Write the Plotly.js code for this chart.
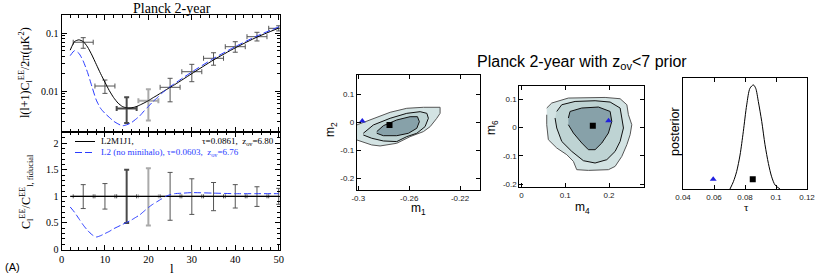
<!DOCTYPE html>
<html><head><meta charset="utf-8">
<script src="https://cdn.plot.ly/plotly-3.0.1.min.js"></script>
<style>html,body{margin:0;padding:0;background:#fff}#c{width:830px;height:276px}</style>
</head><body><div id="c"></div>
<script>
// ---------- left panel data ----------
const lBin = [5, 10, 15, 20, 25, 30, 35, 40, 45, 50];
const eeBin = [0.070, 0.0122, 0.0050, 0.0068, 0.0116, 0.0216, 0.0369, 0.0586, 0.0873, 0.122];
const eeBinHi = [0.084, 0.0155, 0.0078, 0.0107, 0.0166, 0.029, 0.046, 0.0715, 0.104, 0.135];
const eeBinLo = [0.055, 0.0091, 0.0028, 0.0031, 0.0065, 0.0145, 0.028, 0.047, 0.0736, 0.110];
const lBinHalf = [2.3, 2.3, 2.3, 2.3, 2.3, 2.3, 2.3, 2.3, 2.3, 2.3];
const ratioBin = [1, 1, 1, 1, 1, 1, 1, 1, 1, 1];
const ratioBinHi = [1.22, 1.24, 1.50, 1.53, 1.45, 1.33, 1.26, 1.22, 1.18, 1.15];
const ratioBinLo = [0.77, 0.76, 0.50, 0.45, 0.55, 0.66, 0.73, 0.78, 0.81, 0.85];

const lModel = [2, 3, 4, 5, 6, 7, 8, 9, 10, 11, 12, 13, 14, 15, 16, 17, 18, 19, 20, 21, 22, 23, 24, 25, 26, 28, 30, 35, 40, 45, 50];
const eeL2M1J1 = [0.051, 0.072, 0.077, 0.072, 0.058, 0.042, 0.029, 0.020, 0.0142, 0.0102, 0.0077, 0.0062, 0.0054, 0.0051, 0.0051, 0.0053, 0.0057, 0.0062, 0.0068, 0.0076, 0.0084, 0.0094, 0.0104, 0.0116, 0.0128, 0.0160, 0.0200, 0.0345, 0.056, 0.086, 0.123];
const eeL2 = [0.041, 0.050, 0.045, 0.033, 0.021, 0.0120, 0.0070, 0.0050, 0.0041, 0.0035, 0.0030, 0.0027, 0.0025, 0.0026, 0.0028, 0.0032, 0.0037, 0.0045, 0.0054, 0.0065, 0.0076, 0.0090, 0.0104, 0.0119, 0.0134, 0.0170, 0.0214, 0.0366, 0.0588, 0.090, 0.129];
const ratioL2 = [0.80, 0.70, 0.58, 0.46, 0.36, 0.28, 0.235, 0.26, 0.30, 0.34, 0.39, 0.43, 0.47, 0.51, 0.55, 0.60, 0.65, 0.72, 0.79, 0.85, 0.90, 0.95, 1.00, 1.03, 1.05, 1.06, 1.07, 1.06, 1.05, 1.05, 1.05];
const lRef = [2, 50];
const ratioRef = [1, 1];

const eeTickVals = [0.01, 0.1];
const eeTickText = ['0.01', '0.1'];

// ---------- right panels data ----------
const m1Outer = [-0.3013, -0.2882, -0.2750, -0.2619, -0.2488, -0.2357, -0.2357, -0.2383, -0.2435, -0.2488, -0.2593, -0.2698, -0.2829, -0.2895, -0.2987, -0.3013];
const m2Outer = [-0.0096, 0.0143, 0.0357, 0.0500, 0.0536, 0.0536, 0.0320, 0.0143, -0.0155, -0.0333, -0.0512, -0.0750, -0.0846, -0.0810, -0.0690, -0.0630];
const m1Mid = [-0.2961, -0.2882, -0.2750, -0.2619, -0.2514, -0.2461, -0.2449, -0.2475, -0.2540, -0.2619, -0.2698, -0.2803, -0.2895, -0.2961];
const m2Mid = [-0.0393, -0.0096, 0.0143, 0.0320, 0.0379, 0.0320, 0.0143, -0.0155, -0.0393, -0.0512, -0.0690, -0.0668, -0.0570, -0.0454];
const m1Inner = [-0.2855, -0.2803, -0.2698, -0.2593, -0.2535, -0.2520, -0.2540, -0.2606, -0.2698, -0.2803, -0.2855];
const m2Inner = [-0.0333, -0.0121, 0.0082, 0.0200, 0.0200, 0.0021, -0.0214, -0.0393, -0.0479, -0.0479, -0.0393];
const m1Best = [-0.2755], m2Best = [-0.0096];
const m1Alt = [-0.2969], m2Alt = [0.0046];

const m4Outer = [0.0577, 0.0691, 0.1071, 0.1453, 0.1911, 0.2254, 0.2408, 0.2444, 0.2521, 0.2483, 0.2408, 0.2293, 0.2140, 0.1987, 0.1529, 0.1263, 0.1186, 0.1035, 0.0806, 0.0614, 0.0577, 0.0577];
const m6Outer = [0.0683, 0.0859, 0.1035, 0.1056, 0.1056, 0.1011, 0.0799, 0.0447, 0.0095, -0.0257, -0.0609, -0.1021, -0.1373, -0.1489, -0.1514, -0.1489, -0.1197, -0.0961, -0.0725, -0.0433, 0.0095, 0.0447];
const m4Mid = [0.0806, 0.0920, 0.1225, 0.1682, 0.2026, 0.2254, 0.2293, 0.2330, 0.2254, 0.2140, 0.1950, 0.1682, 0.1415, 0.1149, 0.0920, 0.0806, 0.0767];
const m6Mid = [0.0563, 0.0799, 0.0915, 0.0940, 0.0894, 0.0683, 0.0331, -0.0021, -0.0493, -0.0845, -0.1137, -0.1254, -0.1173, -0.0845, -0.0493, -0.0021, 0.0331];
const m4Inner = [0.1071, 0.1110, 0.1378, 0.1758, 0.2026, 0.2064, 0.1987, 0.1836, 0.1682, 0.1529, 0.1378, 0.1186, 0.1071];
const m6Inner = [0.0331, 0.0563, 0.0683, 0.0718, 0.0563, 0.0211, -0.0197, -0.0549, -0.0785, -0.0785, -0.0549, -0.0197, 0.0095];
const m4Best = [0.163], m6Best = [0.006];
const m4Alt = [0.199], m6Alt = [0.0236];

const tauGrid = [0.0703, 0.0725, 0.0746, 0.0768, 0.0789, 0.0811, 0.0832, 0.0854, 0.0869, 0.0886, 0.0908, 0.0929, 0.0951, 0.0972, 0.0994, 0.1026];
const posterior = [0.0, 0.066, 0.157, 0.307, 0.518, 0.76, 0.91, 0.94, 0.91, 0.79, 0.61, 0.40, 0.23, 0.11, 0.036, 0.0];
const tauBest = [0.0850], postBest = [0.088];
const tauAlt = [0.0595], postAlt = [0.088];

const m1Ticks = [-0.3, -0.26, -0.22], m1TickText = ['-0.3', '-0.26', '-0.22'];
const mYTicks = [-0.2, -0.1, 0, 0.1], mYTickText = ['-0.2', '-0.1', '0', '0.1'];
const m4Ticks = [0, 0.1, 0.2], m4TickText = ['0', '0.1', '0.2'];
const tauTicks = [0.04, 0.06, 0.08, 0.1, 0.12], tauTickText = ['0.04', '0.06', '0.08', '0.1', '0.12'];

// ---------- build ----------
const pick = (arr, idx) => idx.map(i => arr[i]);
const errGroups = [
  {idx: [0, 1, 4, 5, 6, 7, 8, 9], color: '#555', w: 1},
  {idx: [2], color: '#4a4a4a', w: 2},
  {idx: [3], color: '#aaaaaa', w: 2}
];
const blue = '#2a3cff';
const traces = [];
errGroups.forEach(g => {
  const x = pick(lBin, g.idx), y = pick(eeBin, g.idx);
  const hi = pick(eeBinHi, g.idx), lo = pick(eeBinLo, g.idx);
  traces.push({x, y, xaxis: 'x2', yaxis: 'y2', type: 'scatter', mode: 'markers',
    marker: {size: 1, color: 'rgba(0,0,0,0)'},
    error_y: {type: 'data', symmetric: false, array: y.map((v, i) => hi[i] - v), arrayminus: y.map((v, i) => v - lo[i]), color: g.color, thickness: g.w, width: 2.5},
    error_x: {type: 'data', array: pick(lBinHalf, g.idx), color: g.color, thickness: g.w, width: 2.5}});
  const ry = pick(ratioBin, g.idx), rhi = pick(ratioBinHi, g.idx), rlo = pick(ratioBinLo, g.idx);
  traces.push({x, y: ry, xaxis: 'x', yaxis: 'y', type: 'scatter', mode: 'markers',
    marker: {size: 1, color: 'rgba(0,0,0,0)'},
    error_y: {type: 'data', symmetric: false, array: ry.map((v, i) => rhi[i] - v), arrayminus: ry.map((v, i) => v - rlo[i]), color: g.color, thickness: g.w, width: 2.5},
    error_x: {type: 'data', array: pick(lBinHalf, g.idx), color: g.color, thickness: 1, width: 2}});
});
traces.push({x: lModel, y: eeL2M1J1, xaxis: 'x2', yaxis: 'y2', mode: 'lines', line: {color: '#000', width: 1, shape: 'spline', smoothing: 0.6}});
traces.push({x: lModel, y: eeL2, xaxis: 'x2', yaxis: 'y2', mode: 'lines', line: {color: blue, width: 1, dash: '7px,3px', shape: 'spline', smoothing: 0.6}});
traces.push({x: lRef, y: ratioRef, xaxis: 'x', yaxis: 'y', mode: 'lines', line: {color: '#000', width: 1.2}});
traces.push({x: lModel, y: ratioL2, xaxis: 'x', yaxis: 'y', mode: 'lines', line: {color: blue, width: 1, dash: '7px,3px', shape: 'spline', smoothing: 0.6}});

const fillOuter = '#d3e3e3', fillMid = '#bed3d3', fillInner = '#87a1a9';
function contourSet(xs, ys, xa, ya) {
  traces.push({x: xs[0], y: ys[0], xaxis: xa, yaxis: ya, mode: 'lines', fill: 'toself', fillcolor: fillOuter, line: {color: '#555', width: 1}});
  traces.push({x: xs[1], y: ys[1], xaxis: xa, yaxis: ya, mode: 'lines', fill: 'toself', fillcolor: fillMid, line: {color: '#111', width: 1}});
  traces.push({x: xs[2], y: ys[2], xaxis: xa, yaxis: ya, mode: 'lines', fill: 'toself', fillcolor: fillInner, line: {color: '#111', width: 1}});
}
contourSet([m1Outer, m1Mid, m1Inner], [m2Outer, m2Mid, m2Inner], 'x3', 'y3');
contourSet([m4Outer, m4Mid, m4Inner], [m6Outer, m6Mid, m6Inner], 'x4', 'y4');
const sq = {symbol: 'square', size: 6, color: '#000'};
const tri = {symbol: 'triangle-up', size: 6, color: '#2020e0'};
traces.push({x: m1Best, y: m2Best, xaxis: 'x3', yaxis: 'y3', mode: 'markers', marker: sq});
traces.push({x: m1Alt, y: m2Alt, xaxis: 'x3', yaxis: 'y3', mode: 'markers', marker: tri, cliponaxis: false});
traces.push({x: m4Best, y: m6Best, xaxis: 'x4', yaxis: 'y4', mode: 'markers', marker: sq});
traces.push({x: m4Alt, y: m6Alt, xaxis: 'x4', yaxis: 'y4', mode: 'markers', marker: tri});
traces.push({x: tauGrid, y: posterior, xaxis: 'x5', yaxis: 'y5', mode: 'lines', line: {color: '#000', width: 1, shape: 'spline', smoothing: 0.8}});
traces.push({x: tauBest, y: postBest, xaxis: 'x5', yaxis: 'y5', mode: 'markers', marker: sq});
traces.push({x: tauAlt, y: postAlt, xaxis: 'x5', yaxis: 'y5', mode: 'markers', marker: tri});

const serif = 'Liberation Serif, DejaVu Serif, serif';
const sans = 'Liberation Sans, Arial, sans-serif';
const baseAx = {showgrid: false, zeroline: false, showline: true, linecolor: '#000', linewidth: 1, mirror: 'ticks', ticks: 'inside', tickcolor: '#000'};
const leftTickFont = {family: serif, size: 10, color: '#000'};
const rightTickFont = {family: sans, size: 8, color: '#222'};
const W = 830, H = 276;
const px = v => v / W, py = v => 1 - v / H;

const layout = {
  width: W, height: H, margin: {l: 0, r: 0, t: 0, b: 0}, showlegend: false,
  paper_bgcolor: '#fff', plot_bgcolor: 'rgba(0,0,0,0)',
  xaxis: Object.assign({}, baseAx, {domain: [px(61.5), px(280)], anchor: 'y', range: [0, 50.3], dtick: 10, ticklen: 5,
    minor: {dtick: 2, ticklen: 3, ticks: 'inside', tickcolor: '#000'}, tickfont: Object.assign({}, leftTickFont, {size: 10.5})}),
  xaxis2: Object.assign({}, baseAx, {domain: [px(61.5), px(280)], anchor: 'y2', matches: 'x', range: [0, 50.3], dtick: 10, ticklen: 5,
    minor: {dtick: 2, ticklen: 3, ticks: 'inside', tickcolor: '#000'}, showticklabels: false}),
  yaxis: Object.assign({}, baseAx, {domain: [py(249.5), py(132)], anchor: 'x', range: [0, 2.21], dtick: 0.5, ticklen: 5,
    minor: {dtick: 0.1, ticklen: 3, ticks: 'inside', tickcolor: '#000'}, tickfont: leftTickFont}),
  yaxis2: Object.assign({}, baseAx, {domain: [py(132), py(15)], anchor: 'x2', type: 'log', range: [-2.71, -0.683],
    tickvals: eeTickVals, ticktext: eeTickText, ticklen: 5,
    minor: {dtick: 'D1', ticklen: 3, ticks: 'inside', tickcolor: '#000'}, tickfont: leftTickFont}),
  xaxis3: Object.assign({}, baseAx, {domain: [px(356.7), px(480)], anchor: 'y3', range: [-0.3013, -0.2043], tickvals: m1Ticks, ticktext: m1TickText, ticklen: 4, tickfont: rightTickFont}),
  yaxis3: Object.assign({}, baseAx, {domain: [py(190), py(75)], anchor: 'x3', range: [-0.242, 0.169], tickvals: mYTicks, ticktext: mYTickText, ticklen: 4, tickfont: rightTickFont}),
  xaxis4: Object.assign({}, baseAx, {domain: [px(519.3), px(644)], anchor: 'y4', range: [-0.005, 0.28], tickvals: m4Ticks, ticktext: m4TickText, ticklen: 4, tickfont: rightTickFont}),
  yaxis4: Object.assign({}, baseAx, {domain: [py(187.3), py(85.7)], anchor: 'x4', range: [-0.211, 0.147], tickvals: mYTicks, ticktext: mYTickText, ticklen: 4, tickfont: rightTickFont}),
  xaxis5: Object.assign({}, baseAx, {domain: [px(683), px(807)], anchor: 'y5', range: [0.04, 0.12], tickvals: tauTicks, ticktext: tauTickText, ticklen: 4, tickfont: rightTickFont}),
  yaxis5: Object.assign({}, baseAx, {domain: [py(189), py(78.3)], anchor: 'x5', range: [0, 1], ticks: '', mirror: true, showticklabels: false}),
  shapes: [
    {type: 'line', xref: 'paper', yref: 'paper', x0: px(75), x1: px(95), y0: py(141.5), y1: py(141.5), line: {color: '#000', width: 1}},
    {type: 'line', xref: 'paper', yref: 'paper', x0: px(75), x1: px(95), y0: py(152.5), y1: py(152.5), line: {color: blue, width: 1, dash: '7px,3px'}}
  ],
  annotations: [
    {text: 'Planck 2-year', x: px(172), y: py(8), font: {family: serif, size: 14, color: '#000'}},
    {text: 'l(l+1)C<sub>l</sub><sup>EE</sup>/2π(μK<sup>2</sup>)', x: px(25), y: py(73), textangle: -90, font: {family: serif, size: 12, color: '#000'}},
    {text: 'C<sub>l</sub><sup>EE</sup>/C<sup>EE</sup><sub>l, fiducial</sub>', x: px(26), y: py(192), textangle: -90, font: {family: serif, size: 12, color: '#000'}},
    {text: 'l', x: px(172), y: py(268), font: {family: serif, size: 13, color: '#000'}},
    {text: '(A)', x: px(12), y: py(267), font: {family: sans, size: 11, color: '#000'}},
    {text: 'L2M1J1,', x: px(99), y: py(141.5), xanchor: 'left', font: {family: serif, size: 9, color: '#000'}},
    {text: 'τ=0.0861,  z<sub>ov</sub>=6.80', x: px(276), y: py(141.5), xanchor: 'right', font: {family: serif, size: 9, color: '#000'}},
    {text: 'L2 (no minihalo), τ=0.0603,  z<sub>ov</sub>=6.76', x: px(99), y: py(152.5), xanchor: 'left', font: {family: serif, size: 9, color: blue}},
    {text: 'Planck 2-year with z<sub>ov</sub>&lt;7 prior', x: px(582), y: py(62), font: {family: sans, size: 16, color: '#000'}},
    {text: 'm<sub>1</sub>', x: px(418), y: py(209), font: {family: sans, size: 12, color: '#000'}},
    {text: 'm<sub>2</sub>', x: px(331), y: py(130), textangle: -90, font: {family: sans, size: 12, color: '#000'}},
    {text: 'm<sub>4</sub>', x: px(582), y: py(208), font: {family: sans, size: 12, color: '#000'}},
    {text: 'm<sub>6</sub>', x: px(492), y: py(128), textangle: -90, font: {family: sans, size: 12, color: '#000'}},
    {text: 'τ', x: px(746), y: py(207), font: {family: serif, size: 11, color: '#000'}},
    {text: 'posterior', x: px(675), y: py(132), textangle: -90, font: {family: sans, size: 12.5, color: '#000'}}
  ].map(a => Object.assign({xref: 'paper', yref: 'paper', showarrow: false, xanchor: 'center', yanchor: 'middle'}, a))
};

Plotly.newPlot('c', traces, layout, {staticPlot: true, displayModeBar: false});
</script>
</body></html>
